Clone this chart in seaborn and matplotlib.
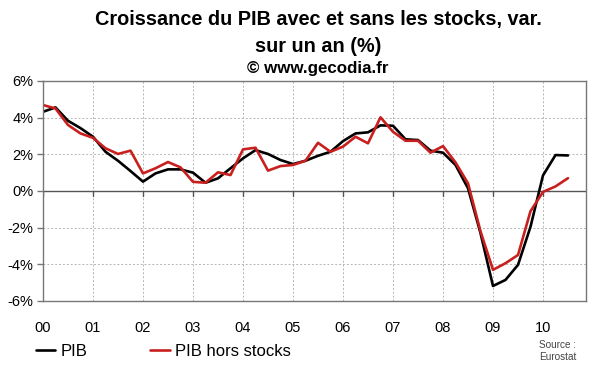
import numpy as np
import pandas as pd
import matplotlib
matplotlib.use("Agg")
import matplotlib.pyplot as plt
import seaborn as sns
from matplotlib.lines import Line2D

# Quarterly data 2000Q1 - 2010Q3 (year-on-year %)
quarters = pd.period_range("2000Q1", "2010Q3", freq="Q")
pib = [4.32, 4.56, 3.83, 3.43, 2.96, 2.14, 1.65, 1.09, 0.51, 0.96, 1.18, 1.18,
       1.00, 0.45, 0.69, 1.24, 1.78, 2.23, 2.02, 1.69, 1.47, 1.65, 1.92, 2.14,
       2.72, 3.14, 3.20, 3.58, 3.56, 2.82, 2.78, 2.20, 2.09, 1.42, 0.15, -2.30,
       -5.18, -4.85, -4.03, -1.95, 0.85, 1.96, 1.94]
pib_hors_stocks = [4.69, 4.50, 3.60, 3.14, 2.90, 2.33, 2.02, 2.20, 0.96, 1.24, 1.58, 1.29,
                   0.50, 0.45, 1.02, 0.87, 2.27, 2.36, 1.11, 1.36, 1.42, 1.65, 2.63, 2.14,
                   2.42, 2.96, 2.60, 4.02, 3.23, 2.74, 2.74, 2.09, 2.45, 1.56, 0.42, -2.20,
                   -4.30, -3.94, -3.49, -1.10, -0.05, 0.25, 0.70]
year_labels = ["00", "01", "02", "03", "04", "05", "06", "07", "08", "09", "10"]
y_ticks = [-6, -4, -2, 0, 2, 4, 6]
series_names = ["PIB", "PIB hors stocks"]
colors = ["#000000", "#c8201e"]

t = [q.year + (q.quarter - 1) / 4 for q in quarters]
df = pd.DataFrame({
    "t": t * 2,
    "val": pib + pib_hors_stocks,
    "serie": [series_names[0]] * len(pib) + [series_names[1]] * len(pib_hors_stocks),
})

sns.set_style("white")
plt.rcParams["font.family"] = ["Liberation Sans", "DejaVu Sans"]
plt.rcParams["text.color"] = "black"

fig = plt.figure(figsize=(6.0, 3.72), dpi=100)
ax = fig.add_axes([43 / 600, 1 - 301 / 372, (586 - 43) / 600, (301 - 81) / 372])

sns.lineplot(data=df, x="t", y="val", hue="serie", palette=colors,
             hue_order=series_names, linewidth=1.9, ax=ax, legend=False)

ax.set_xlim(2000, 2010.86)
ax.set_ylim(-6, 6)
years = [2000 + i for i in range(len(year_labels))]
ax.set_xticks(years)
ax.set_xticklabels(year_labels, fontsize=10.5)
ax.set_yticks(y_ticks)
ax.set_yticklabels([f"{v}%" for v in y_ticks], fontsize=10.5)
ax.set_xlabel("")
ax.set_ylabel("")

for v in y_ticks:
    if v not in (0, -6, 6):
        ax.axhline(v, color="#b5b5b5", lw=0.7, ls=(0, (2, 2)), zorder=0)
for yv in years[1:]:
    ax.axvline(yv, color="#b5b5b5", lw=0.7, ls=(0, (2, 2)), zorder=0)
ax.axhline(0, color="#555555", lw=1.0, zorder=1)
for yv in years:
    ax.plot([yv, yv], [0, -0.25], color="#555555", lw=1.0, zorder=1)

for s in ax.spines.values():
    s.set_color("#777777")
    s.set_linewidth(1.0)
ax.tick_params(axis="y", length=4, width=1, color="#777777", labelcolor="black", pad=3, left=True)
ax.tick_params(axis="x", length=0, labelcolor="black", pad=14.5)

fig.text(318 / 600, 1 - 20 / 372, "Croissance du PIB avec et sans les stocks, var.",
         ha="center", va="center", fontsize=14.3, fontweight="bold", color="black")
fig.text(318 / 600, 1 - 46 / 372, "sur un an (%)", ha="center", va="center",
         fontsize=14.3, fontweight="bold", color="black")
fig.text(318 / 600, 1 - 68.5 / 372, "© www.gecodia.fr", ha="center", va="center",
         fontsize=12.2, fontweight="bold", color="black")

handles = [Line2D([0], [0], color=c, lw=1.9) for c in colors]
leg = fig.legend(handles, series_names, loc="center left", bbox_to_anchor=(36 / 600, 1 - 351 / 372),
                 ncol=2, frameon=False, fontsize=12, handlelength=1.15, handletextpad=0.3,
                 columnspacing=3.8, borderpad=0, borderaxespad=0)
for txt in leg.get_texts():
    txt.set_color("black")

fig.text(539 / 600, 1 - 345 / 372, "Source :", fontsize=7.2, color="#444444", va="center")
fig.text(539 / 600, 1 - 357 / 372, "Eurostat", fontsize=7.2, color="#444444", va="center")

fig.savefig("out.png", dpi=100, facecolor="white")
